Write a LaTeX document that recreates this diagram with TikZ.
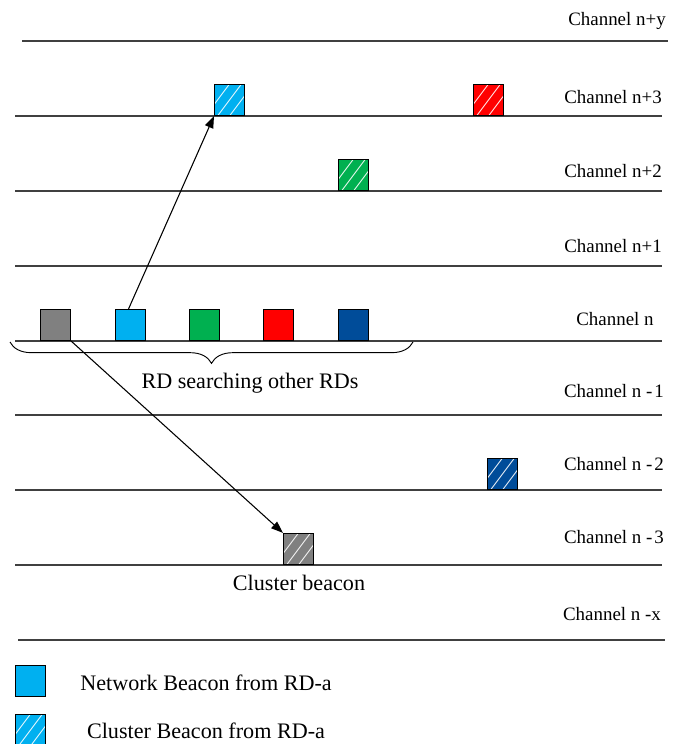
\documentclass[tikz,border=0pt]{standalone}
\usepackage{fontspec}
\setmainfont{Liberation Serif}
\usetikzlibrary{arrows.meta,decorations.pathreplacing}
\definecolor{cgray}{RGB}{128,128,128}
\definecolor{cblue}{RGB}{0,176,240}
\definecolor{cgreen}{RGB}{0,176,80}
\definecolor{cred}{RGB}{255,0,0}
\definecolor{cdblue}{RGB}{0,76,153}
\definecolor{chan}{RGB}{64,64,64}
\begin{document}
\begin{tikzpicture}[x=0.75pt,y=-0.75pt,
  chline/.style={draw=chan,line width=1.1pt},
  chlabel/.style={font=\fontsize{14.2}{16}\selectfont,inner sep=0pt},
  txt/.style={font=\fontsize{16.6}{18}\selectfont,inner sep=0pt},
  sq/.style={draw=black,line width=0.8pt,minimum width=22.5pt,minimum height=23.25pt,inner sep=0pt,anchor=south west},
  hatch/.style={sq,path picture={
     \foreach \o in {-9,0,9}
       \draw[white,line width=0.7pt,opacity=0.85] ([xshift=\o pt]path picture bounding box.center) ++(-9pt,-12pt) -- ++(18pt,24pt);}},
  arr/.style={-{Triangle[length=9pt,width=6.5pt]},line width=0.8pt,black}]
\useasboundingbox (0,0) rectangle (679,744);
% channel lines
\coordinate (ly1) at (22,41);  \coordinate (ly2) at (668,41);
\coordinate (l31) at (15,116); \coordinate (l32) at (662,116);
\coordinate (l21) at (15,191); \coordinate (l22) at (662,191);
\coordinate (l11) at (15,266); \coordinate (l12) at (662,266);
\coordinate (l01) at (15,341); \coordinate (l02) at (662,341);
\coordinate (m11) at (15,415); \coordinate (m12) at (662,415);
\coordinate (m21) at (15,490); \coordinate (m22) at (662,490);
\coordinate (m31) at (15,565); \coordinate (m32) at (662,565);
\coordinate (mx1) at (18,640); \coordinate (mx2) at (665,640);
\draw[chline] (ly1) -- (ly2);
\draw[chline] (l31) -- (l32);
\draw[chline] (l21) -- (l22);
\draw[chline] (l11) -- (l12);
\draw[chline] (l01) -- (l02);
\draw[chline] (m11) -- (m12);
\draw[chline] (m21) -- (m22);
\draw[chline] (m31) -- (m32);
\draw[chline] (mx1) -- (mx2);
% labels
\node[chlabel] (ty) at (617,21) {Channel n+y};
\node[chlabel] (t3) at (613,97) {Channel n+3};
\node[chlabel] (t2) at (613,171) {Channel n+2};
\node[chlabel] (t1) at (613,246) {Channel n+1};
\node[chlabel] (t0) at (615,319) {Channel n};
\node[chlabel] (u1) at (614,391) {Channel n -\kern1.5pt1};
\node[chlabel] (u2) at (614,464) {Channel n -\kern1.5pt2};
\node[chlabel] (u3) at (614,537) {Channel n -\kern1.5pt3};
\node[chlabel] (ux) at (612,614) {Channel n -x};
% squares on channel n
\node[sq,fill=cgray]  (g1) at (40,341) {};
\node[sq,fill=cblue]  (b1) at (115,341) {};
\node[sq,fill=cgreen] (gr1) at (189,341) {};
\node[sq,fill=cred]   (r1) at (263,341) {};
\node[sq,fill=cdblue] (d1) at (338,341) {};
% hatched squares
\node[hatch,fill=cblue]  (hb) at (214,116) {};
\node[hatch,fill=cred]   (hr) at (473,116) {};
\node[hatch,fill=cgreen] (hg2) at (338,191) {};
\node[hatch,fill=cdblue] (hd) at (487,490) {};
\node[hatch,fill=cgray]  (hg) at (283,565) {};
% arrows
\draw[arr] ([xshift=-1.5pt]b1.north) -- (hb.south west);
\draw[arr] (g1.south east) -- (hg.north west);
% brace
\coordinate (br1) at (10,342);
\coordinate (br2) at (413,342);
\draw[line width=0.7pt,decorate,decoration={brace,mirror,amplitude=16pt}] (br1) -- (br2);
\node[txt] (rdtxt) at (250,383) {RD searching other RDs};
\node[txt] (cbtxt) at (299,583) {Cluster beacon};
% legend
\node[sq,fill=cblue] (lg1) at (15,697) {};
\node[txt] (lt1) at (206,683) {Network Beacon from RD-a};
\node[hatch,fill=cblue] (lg2) at (15,746) {};
\node[txt] (lt2) at (206,731) {Cluster Beacon from RD-a};
\end{tikzpicture}
\end{document}
